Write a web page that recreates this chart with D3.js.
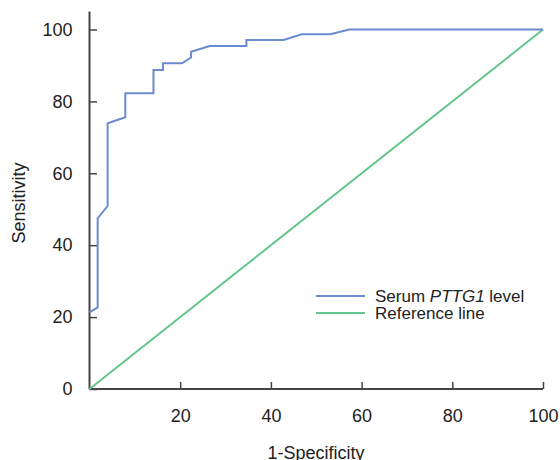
<!DOCTYPE html>
<html>
<head>
<meta charset="utf-8">
<script src="https://cdn.jsdelivr.net/npm/d3@7"></script>
<style>
  body { margin: 0; background: #fff; }
  text { font-family: "Liberation Sans", Arial, sans-serif; fill: #222; }
</style>
</head>
<body>
<div id="theGraph"></div>
<script>
// ROC curve points (1-specificity, sensitivity)
const fpr = [0, 1.8, 1.8, 4.0, 4.0, 7.9, 7.9, 14.1, 14.1, 16.2, 16.2, 20.4, 22.4, 22.4, 26.5, 34.6, 34.6, 42.8, 46.8, 53.1, 57.3, 100];
const tpr = [21.3, 22.7, 47.5, 50.9, 73.9, 75.6, 82.3, 82.3, 88.7, 88.7, 90.6, 90.6, 92.2, 93.8, 95.4, 95.4, 97.1, 97.1, 98.7, 98.7, 100, 100];
const refX = [0, 100];
const refY = [0, 100];
const xTicks = [20, 40, 60, 80, 100];
const yTicks = [0, 20, 40, 60, 80, 100];
const seriesNames = ["Serum ", "PTTG1", " level"];
const refName = "Reference line";

const width = 560, height = 460,
    margin = {left: 89.5, top: 29.5, right: 17, bottom: 71};

const svg = d3.select("#theGraph").append("svg").attr("width", width).attr("height", height);

const xScale = d3.scaleLinear().domain([0, 100]).range([margin.left, width - margin.right]);
const yScale = d3.scaleLinear().domain([0, 100]).range([height - margin.bottom, margin.top]);

const axisColor = "#444";

// y axis
const yAxis = svg.append("g").attr("transform", `translate(${margin.left},0)`)
    .call(d3.axisLeft(yScale).tickValues(yTicks).tickSizeInner(-7.5).tickSizeOuter(0).tickPadding(17));
yAxis.select(".domain").remove();
yAxis.selectAll("line").attr("stroke", axisColor).attr("stroke-width", 1.5);
yAxis.selectAll("text").style("font-size", "18px").attr("fill", "#222");

// x axis
const xAxis = svg.append("g").attr("transform", `translate(0,${yScale(0)})`)
    .call(d3.axisBottom(xScale).tickValues(xTicks).tickSizeInner(-7).tickSizeOuter(0).tickPadding(20));
xAxis.select(".domain").remove();
xAxis.selectAll("line").attr("stroke", axisColor).attr("stroke-width", 1.5);
xAxis.selectAll("text").style("font-size", "18px").attr("fill", "#222");

// axis lines
svg.append("line").attr("x1", xScale(0)).attr("x2", xScale(0))
    .attr("y1", yScale(0)).attr("y2", yScale(105))
    .attr("stroke", axisColor).attr("stroke-width", 2);
svg.append("line").attr("x1", xScale(0)).attr("x2", xScale(100))
    .attr("y1", yScale(0)).attr("y2", yScale(0))
    .attr("stroke", axisColor).attr("stroke-width", 2);

const line = d3.line().x(d => xScale(d[0])).y(d => yScale(d[1]));

svg.append("path").datum(d3.zip(refX, refY)).attr("d", line)
    .attr("fill", "none").attr("stroke", "#62c68a").attr("stroke-width", 2);

svg.append("path").datum(d3.zip(fpr, tpr)).attr("d", line)
    .attr("fill", "none").attr("stroke", "#6b8bd0").attr("stroke-width", 2);

// axis titles
svg.append("text").attr("x", 316).attr("y", 459).attr("text-anchor", "middle")
    .style("font-size", "18px").text("1-Specificity");
svg.append("text").attr("transform", "translate(25,203) rotate(-90)").attr("text-anchor", "middle")
    .style("font-size", "18px").text("Sensitivity");

// legend
const legend = svg.append("g").attr("transform", "translate(316,296)");
legend.append("line").attr("x1", 0).attr("x2", 49).attr("y1", 0).attr("y2", 0)
    .attr("stroke", "#6b8bd0").attr("stroke-width", 2);
legend.append("line").attr("x1", 0).attr("x2", 49).attr("y1", 17).attr("y2", 17)
    .attr("stroke", "#62c68a").attr("stroke-width", 2);
const t1 = legend.append("text").attr("x", 59).attr("y", 6).style("font-size", "17px");
t1.selectAll("tspan").data(seriesNames).join("tspan")
    .style("font-style", (d, i) => i === 1 ? "italic" : "normal")
    .text(d => d);
legend.append("text").attr("x", 59).attr("y", 23).style("font-size", "17px").text(refName);
</script>
</body>
</html>
